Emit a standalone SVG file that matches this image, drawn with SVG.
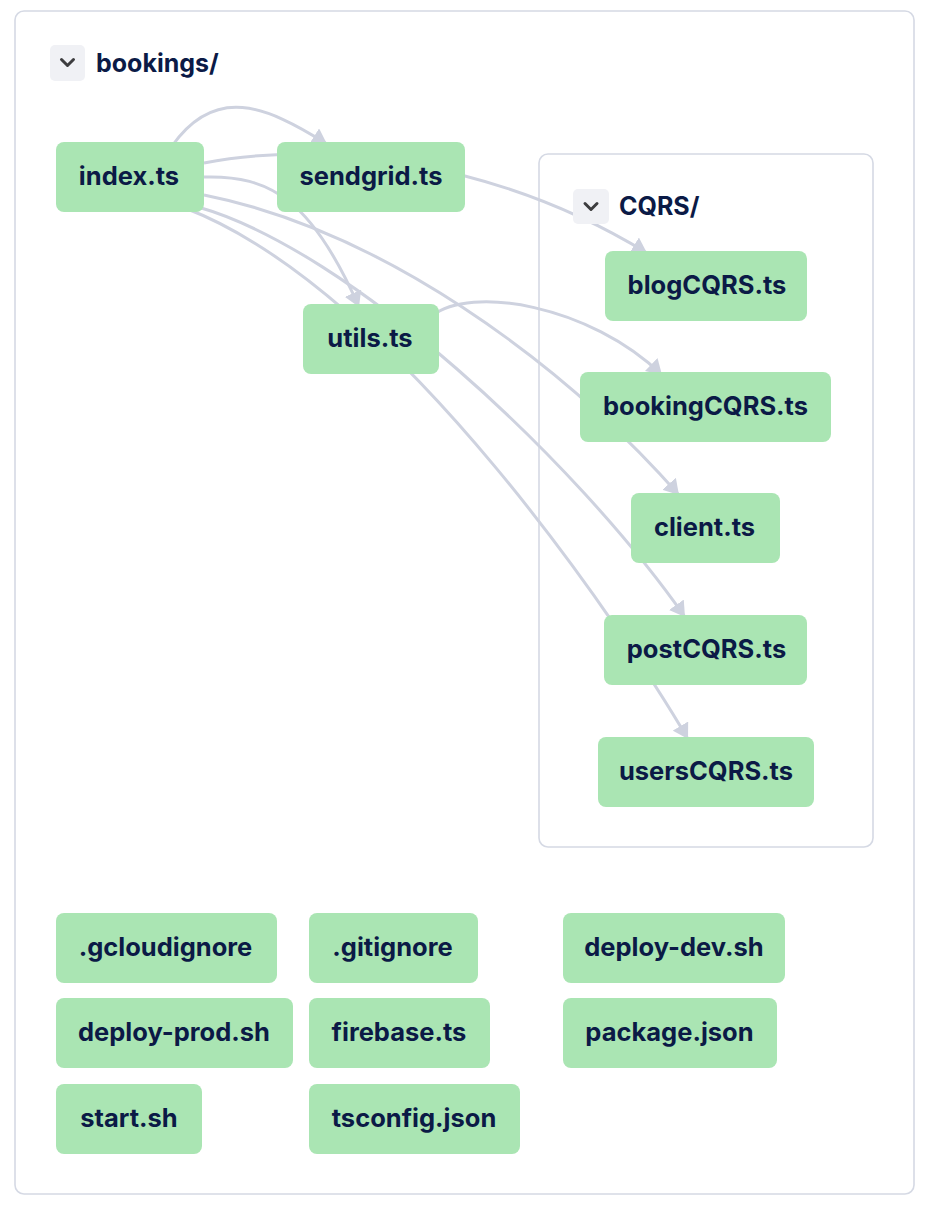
<svg xmlns="http://www.w3.org/2000/svg" width="938" height="1210" viewBox="0 0 938 1210">
<defs>
<style>
.frame{fill:none;stroke:#d5d9e4;stroke-width:1.6}
.chevbox{fill:#f0f1f5}
.chev{fill:none;stroke:#3d3d3f;stroke-width:3;stroke-linecap:round;stroke-linejoin:round}
.title{font-family:Inter,"Liberation Sans",sans-serif;font-weight:700;font-size:25px;fill:#0b1a46}
.node rect{fill:#aae5b3}
.node text{font-family:Inter,"Liberation Sans",sans-serif;font-weight:700;font-size:25.5px;fill:#0b1a46;text-anchor:middle}
.edge{fill:none;stroke:#ced2df;stroke-width:3;marker-end:url(#arrow)}
</style>
<marker id="arrow" markerUnits="userSpaceOnUse" viewBox="0 0 15 18" refX="15" refY="9" markerWidth="15" markerHeight="18" orient="auto">
<path d="M0,0 L15,9 L0,18 z" fill="#ced2df"/>
</marker>
</defs>
<rect x="0" y="0" width="938" height="1210" fill="#ffffff"/>
<rect class="frame" x="15" y="11" width="899" height="1183" rx="9"/>
<rect class="frame" x="539" y="154" width="334" height="693" rx="9"/>

<g id="connectors">
<path class="edge" d="M172,146 C215,85 265,105 327,144"/>
<path class="edge" d="M204,163 C320,140 495,160 647,253"/>
<path class="edge" d="M204,177 C270,175 312,200 359,307"/>
<path class="edge" d="M204,195 C380,230 560,360 679,495"/>
<path class="edge" d="M198,207 C350,250 575,460 685,617"/>
<path class="edge" d="M185,208 C400,290 630,640 688,739"/>
<path class="edge" d="M432,316 C470,285 590,305 662,375"/>
</g>

<g id="group-bookings">
<rect class="chevbox" x="50" y="45" width="35" height="36" rx="5"/>
<path class="chev" d="M61.5,59.5 L67.5,65.5 L73.5,59.5"/>
<text class="title" x="96" y="72">bookings/</text>
</g>
<g id="group-CQRS">
<rect class="chevbox" x="573" y="189" width="36" height="35" rx="5"/>
<path class="chev" d="M585,203.5 L591,209.5 L597,203.5"/>
<text class="title" x="619" y="215">CQRS/</text>
</g>

<g id="node-index" class="node"><rect x="56" y="142" width="148" height="70" rx="8"/><text x="129" y="185">index.ts</text></g>
<g id="node-sendgrid" class="node"><rect x="277" y="142" width="188" height="70" rx="8"/><text x="371" y="185">sendgrid.ts</text></g>
<g id="node-utils" class="node"><rect x="303" y="304" width="136" height="70" rx="8"/><text x="370" y="347">utils.ts</text></g>
<g id="node-blogCQRS" class="node"><rect x="605" y="251" width="202" height="70" rx="8"/><text x="707" y="294">blogCQRS.ts</text></g>
<g id="node-bookingCQRS" class="node"><rect x="580" y="372" width="251" height="70" rx="8"/><text x="705.5" y="415">bookingCQRS.ts</text></g>
<g id="node-client" class="node"><rect x="631" y="493" width="149" height="70" rx="8"/><text x="704.5" y="536">client.ts</text></g>
<g id="node-postCQRS" class="node"><rect x="604" y="615" width="203" height="70" rx="8"/><text x="706.5" y="658">postCQRS.ts</text></g>
<g id="node-usersCQRS" class="node"><rect x="598" y="737" width="216" height="70" rx="8"/><text x="706" y="780">usersCQRS.ts</text></g>

<g id="node-gcloudignore" class="node"><rect x="56" y="913" width="221" height="70" rx="8"/><text x="165.5" y="956">.gcloudignore</text></g>
<g id="node-gitignore" class="node"><rect x="309" y="913" width="169" height="70" rx="8"/><text x="392.5" y="956">.gitignore</text></g>
<g id="node-deploy-dev" class="node"><rect x="563" y="913" width="222" height="70" rx="8"/><text x="674" y="956">deploy-dev.sh</text></g>
<g id="node-deploy-prod" class="node"><rect x="56" y="998" width="237" height="70" rx="8"/><text x="174" y="1041">deploy-prod.sh</text></g>
<g id="node-firebase" class="node"><rect x="309" y="998" width="181" height="70" rx="8"/><text x="399" y="1041">firebase.ts</text></g>
<g id="node-package" class="node"><rect x="563" y="998" width="214" height="70" rx="8"/><text x="669.5" y="1041">package.json</text></g>
<g id="node-start" class="node"><rect x="56" y="1084" width="146" height="70" rx="8"/><text x="129" y="1127">start.sh</text></g>
<g id="node-tsconfig" class="node"><rect x="309" y="1084" width="211" height="70" rx="8"/><text x="414" y="1127">tsconfig.json</text></g>
</svg>
